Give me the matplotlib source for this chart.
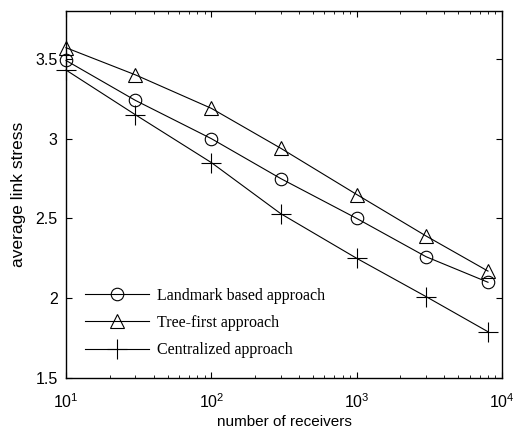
import numpy as np
import matplotlib.pyplot as plt
from matplotlib.ticker import LogLocator, NullFormatter

receivers = [10, 30, 100, 300, 1000, 3000, 8000]
landmark = [3.49, 3.24, 3.00, 2.75, 2.50, 2.26, 2.10]
tree_first = [3.57, 3.40, 3.19, 2.94, 2.65, 2.39, 2.17]
centralized = [3.43, 3.15, 2.85, 2.53, 2.25, 2.01, 1.79]

plt.rcParams['font.family'] = 'Liberation Sans'

fig = plt.figure(figsize=(5.13, 4.32), dpi=100)
ax = fig.add_axes([0.1287, 0.125, 0.85, 0.8495])

ax.plot(receivers, landmark, color='black', lw=0.8, marker='o', ms=9,
        mfc='none', mec='black', mew=0.8, label='Landmark based approach',
        clip_on=False)
ax.plot(receivers, tree_first, color='black', lw=0.8, marker='^', ms=10,
        mfc='none', mec='black', mew=0.8, label='Tree-first approach',
        clip_on=False)
ax.plot(receivers, centralized, color='black', lw=0.8, marker='+', ms=14,
        mew=0.8, label='Centralized approach', clip_on=False)

ax.set_xscale('log')
ax.set_xlim(10, 10000)
ax.set_ylim(1.5, 3.8)
ax.set_yticks([1.5, 2, 2.5, 3, 3.5])
ax.set_yticklabels(['1.5', '2', '2.5', '3', '3.5'])
ax.xaxis.set_minor_locator(LogLocator(base=10, subs=np.arange(2, 10)))
ax.xaxis.set_minor_formatter(NullFormatter())
ax.tick_params(which='both', direction='in', top=True, right=True, labelsize=11.5)
ax.tick_params(which='major', length=4)
ax.tick_params(which='minor', length=2)
ax.tick_params(axis='x', which='major', pad=10)
ax.tick_params(axis='y', which='major', pad=6)
for s in ax.spines.values():
    s.set_linewidth(1.0)

ax.set_xlabel('number of receivers', fontsize=11, labelpad=3)
ax.set_ylabel('average link stress', fontsize=12.5, labelpad=6.5)

ax.legend(loc='lower left', frameon=False, bbox_to_anchor=(0.01, 0.015),
          prop={'family': 'Liberation Serif', 'size': 11.5}, handlelength=4,
          handletextpad=0.5, labelspacing=0.7)

fig.savefig('out.png', dpi=100)
